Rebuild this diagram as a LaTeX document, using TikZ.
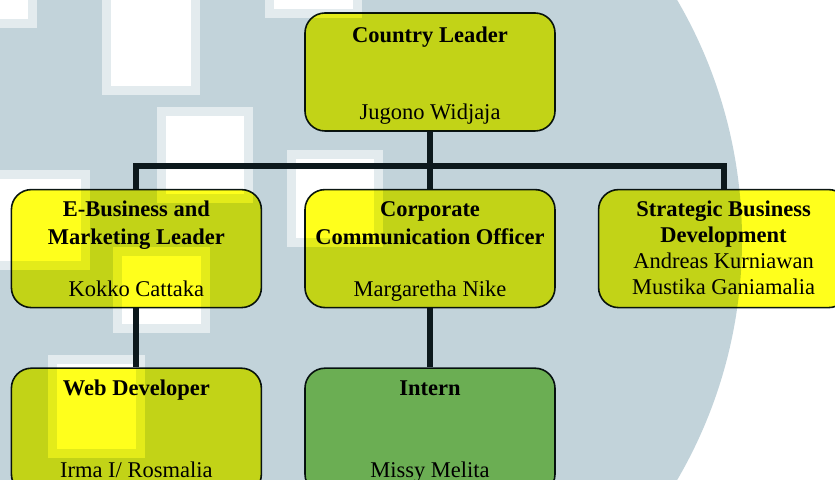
\documentclass[tikz,border=0pt]{standalone}
\usepackage{fontspec}
\setmainfont{Liberation Serif}
\usetikzlibrary{positioning, calc}

\definecolor{bgblue}{RGB}{194,211,218}
\definecolor{leadyellow}{RGB}{255,255,28}
\definecolor{interngreen}{RGB}{141,211,98}
\definecolor{linedark}{RGB}{12,24,28}

\begin{document}
\begin{tikzpicture}[
    role/.style={draw=linedark, line width=0.8pt, rounded corners=10pt, fill=leadyellow, minimum width=125pt, minimum height=59pt, align=center, inner ysep=0pt, inner xsep=2pt, text height=52.5pt, text depth=6.5pt, font=\fontsize{11.25}{14}\selectfont},
    low/.style={role, minimum height=63pt, text height=54.5pt, text depth=8.5pt},
    link/.style={draw=linedark, line width=3pt}]
\useasboundingbox (-215pt,36pt) rectangle (202.5pt,-204pt);

% watermark behind the chart (pixel grid of the source)
\begin{scope}[shift={(-215pt,36pt)}, x=0.5pt, y=-0.5pt]
\fill[bgblue] (266,240) circle (238pt);
\foreach \xa/\ya/\xb/\yb in {-20/-20/37/28, 102/-20/200/95, 157/107/253/203, 287/150/383/247,
    -20/170/90/270, 113/247/210/333, 48/355/145/458, 265/-20/362/18} {
  \fill[white, opacity=.55] (\xa,\ya) rectangle (\xb,\yb);
  \fill[white] (\xa+9,\ya+9) rectangle (\xb-9,\yb-9);
}
\end{scope}

% boxes
\begin{scope}[blend mode=multiply]
\node[role, text height=53.5pt, text depth=5.5pt] (ceo) {\textbf{Country Leader}\\[24.5pt]Jugono Widjaja};
\node[role, text height=53.5pt, text depth=5.5pt, below left=28.5pt and 21pt of ceo] (ebiz) {\textbf{E-Business and}\\\textbf{Marketing Leader}\\[12pt]Kokko Cattaka};
\node[role, text height=53.5pt, text depth=5.5pt, below=28.5pt of ceo] (comm) {\textbf{Corporate}\\\textbf{Communication Officer}\\[12pt]Margaretha Nike};
\node[role, below right=28.5pt and 21pt of ceo] (strat) {\textbf{Strategic Business}\\[-1pt]\textbf{Development}\\[-1pt]Andreas Kurniawan\\[-1pt]Mustika Ganiamalia};
\node[low, below=29.5pt of ebiz] (web) {\textbf{Web Developer}\\[27pt]Irma I/ Rosmalia};
\node[low, fill=interngreen, below=29.5pt of comm] (intern) {\textbf{Intern}\\[27pt]Missy Melita};
\end{scope}

% reporting lines
\coordinate[below=17pt of ceo.south] (hub);
\draw[link] (ceo.south) -- (hub) -- (comm.north);
\draw[link] (ebiz.north) |- (hub) -| (strat.north);
\draw[link] (ebiz.south) -- (web.north);
\draw[link] (comm.south) -- (intern.north);
\end{tikzpicture}
\end{document}
